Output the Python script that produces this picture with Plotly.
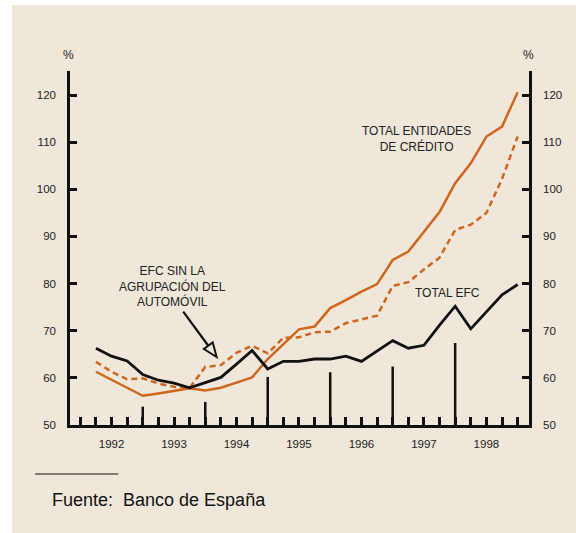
import plotly.graph_objects as go

# ---------------- data (quarterly, 1992 Q1 .. 1998 Q4) ----------------
quarters = list(range(1, 29))
total_entidades = [61.3, 59.6, 57.9, 56.2, 56.7, 57.2, 57.8, 57.3, 57.9, 59.0,
                   60.1, 64.0, 67.2, 70.3, 70.9, 74.8, 76.5, 78.3, 79.9, 85.0,
                   86.8, 91.0, 95.2, 101.3, 105.5, 111.2, 113.3, 120.6]
efc_sin_auto = [63.4, 61.3, 59.7, 59.9, 58.8, 58.1, 57.9, 62.3, 62.7, 65.3,
                66.8, 65.2, 68.5, 68.6, 69.7, 69.8, 71.6, 72.4, 73.2, 79.5,
                80.3, 83.0, 85.5, 91.4, 92.5, 95.0, 102.2, 111.2]
total_efc = [66.3, 64.6, 63.6, 60.7, 59.5, 58.9, 57.9, 59.0, 60.1, 62.9,
             65.8, 61.9, 63.5, 63.5, 64.0, 64.0, 64.6, 63.5, 65.7, 67.9,
             66.3, 66.9, 71.2, 75.2, 70.4, 74.0, 77.6, 79.8]
year_end_q = [4, 8, 12, 16, 20, 24]
year_end_vals = [53.9, 54.9, 60.2, 61.2, 62.4, 67.4]
years = ["1992", "1993", "1994", "1995", "1996", "1997", "1998"]
y_ticks = [50, 60, 70, 80, 90, 100, 110, 120]

# ---------------- layout helpers (screen pixels -> paper) ----------------
W, H = 576, 533
L, R, T, B = 70, 529.3, 71, 425
PW, PH = R - L, B - T
def px(x):
    return (x - L) / PW
def py(y):
    return (B - y) / PH

ORANGE = "#D0661C"
BLACK = "#111111"
BEIGE = "#EFE7D9"
FONT = "Liberation Sans, Arial, sans-serif"

fig = go.Figure()

# vertical year-end markers
bx, by = [], []
for q, v in zip(year_end_q, year_end_vals):
    bx += [q, q, None]
    by += [50, v, None]
fig.add_trace(go.Scatter(x=bx, y=by, mode="lines",
                         line=dict(color=BLACK, width=2.5), hoverinfo="skip"))

fig.add_trace(go.Scatter(x=quarters, y=efc_sin_auto, mode="lines",
                         line=dict(color=ORANGE, width=2.5, dash="6px,4px")))
fig.add_trace(go.Scatter(x=quarters, y=total_entidades, mode="lines",
                         line=dict(color=ORANGE, width=2.5)))
fig.add_trace(go.Scatter(x=quarters, y=total_efc, mode="lines",
                         line=dict(color=BLACK, width=2.8)))
# invisible trace for the right axis
fig.add_trace(go.Scatter(x=[quarters[0]], y=[y_ticks[0]], yaxis="y2",
                         mode="markers", marker=dict(opacity=0),
                         hoverinfo="skip"))

q0_px, q_step = 80.3, 15.63
x_range = [(L - q0_px) / q_step, (R - q0_px) / q_step]
tickvals = list(range(0, 29))
ticktext = [""] * 29
for i, yr in enumerate(years):
    ticktext[4 * i + 2] = yr

axis_font = dict(family=FONT, size=11.5, color="#222")
yaxis_common = dict(range=[50, 125.1], tickvals=y_ticks, ticks="inside",
                    ticklen=7, tickwidth=2.5, tickcolor=BLACK, showline=True,
                    linecolor=BLACK, linewidth=2.5, showgrid=False,
                    zeroline=False, tickfont=axis_font, ticklabelstandoff=9)

fig.update_layout(
    width=W, height=H,
    margin=dict(l=L, r=W - R, t=T, b=H - B, pad=0),
    paper_bgcolor="white", plot_bgcolor="rgba(0,0,0,0)",
    showlegend=False,
    xaxis=dict(range=x_range, tickvals=tickvals, ticktext=ticktext,
               ticks="inside", ticklen=8, tickwidth=2.5, tickcolor=BLACK,
               showline=True, linecolor=BLACK, linewidth=2.5, showgrid=False,
               zeroline=False, tickfont=axis_font, ticklabelstandoff=6),
    yaxis=dict(side="left", **yaxis_common),
    yaxis2=dict(side="right", overlaying="y", **yaxis_common),
)

shapes = [
    dict(type="rect", xref="paper", yref="paper", x0=px(12), x1=px(580),
         y0=py(540), y1=py(5), fillcolor=BEIGE, line=dict(width=0),
         layer="below"),
    dict(type="line", xref="paper", yref="paper", x0=px(35), x1=px(118.3),
         y0=py(474), y1=py(474), line=dict(color=BLACK, width=1)),
]
# arrow for the EFC label
sx, sy = 183.3, 311.7
tx, ty = 216.7, 357.0
dx, dy = tx - sx, ty - sy
ln = (dx * dx + dy * dy) ** 0.5
ux, uy = dx / ln, dy / ln
hl, hw = 14, 5.5
bxp, byp = tx - hl * ux, ty - hl * uy
c1 = (bxp - hw * uy, byp + hw * ux)
c2 = (bxp + hw * uy, byp - hw * ux)
shapes.append(dict(type="line", xref="paper", yref="paper", x0=px(sx), y0=py(sy),
                   x1=px(bxp), y1=py(byp), line=dict(color=BLACK, width=2.2)))
shapes.append(dict(type="path", xref="paper", yref="paper",
                   path=f"M {px(tx)} {py(ty)} L {px(c1[0])} {py(c1[1])} "
                        f"L {px(c2[0])} {py(c2[1])} Z",
                   fillcolor=BEIGE, line=dict(color=BLACK, width=2)))
fig.update_layout(shapes=shapes)

lab_font = dict(family=FONT, size=12, color="#222")
ann = [
    dict(text="%", x=px(68), y=py(55)),
    dict(text="%", x=px(528.7), y=py(55)),
    dict(text="TOTAL ENTIDADES<br>DE CRÉDITO", x=px(416.8), y=py(138.5)),
    dict(text="EFC SIN LA<br>AGRUPACIÓN DEL<br>AUTOMÓVIL", x=px(172.2), y=py(286)),
    dict(text="TOTAL EFC", x=px(447.9), y=py(292.7)),
]
for a in ann:
    fig.add_annotation(xref="paper", yref="paper", showarrow=False,
                       xanchor="center", yanchor="middle", font=lab_font, **a)
fig.add_annotation(xref="paper", yref="paper", showarrow=False,
                   text="Fuente:  Banco de España", x=px(49.5), y=py(500),
                   xanchor="left", yanchor="middle",
                   font=dict(family=FONT, size=18, color="#111"))

fig.write_html("out.html", config={"displayModeBar": False},
               post_script="document.body.style.margin='0';"
                           "document.body.style.overflow='hidden';")
